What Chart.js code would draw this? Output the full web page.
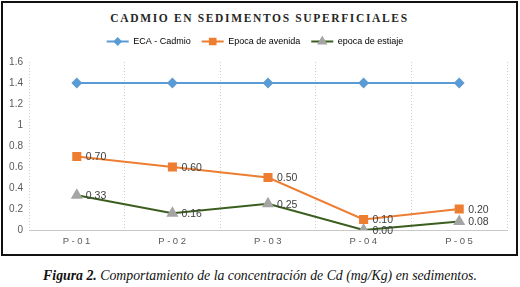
<!DOCTYPE html>
<html><head><meta charset="utf-8">
<script src="https://cdn.jsdelivr.net/npm/chart.js@4.4.1/dist/chart.umd.min.js"></script>
<style>
html,body{margin:0;padding:0;background:#fff;width:520px;height:287px;overflow:hidden}
#box{position:absolute;left:1px;top:1px;width:513px;height:251px;border:2px solid #111;background:#fff}
#title{position:absolute;left:0;top:9px;width:100%;text-align:center;font:bold 11.5px "Liberation Serif",serif;letter-spacing:1.65px;color:#262626}
#cv{position:absolute;left:0;top:0}
#cap{position:absolute;left:0;top:268px;width:520px;text-align:center;font:italic 13.8px "Liberation Serif",serif;color:#111}
</style></head>
<body>
<div id="box">
<div id="title">CADMIO EN SEDIMENTOS SUPERFICIALES</div>
<canvas id="cv" width="513" height="251"></canvas>
</div>
<div id="cap"><b>Figura 2.</b> Comportamiento de la concentración de Cd (mg/Kg) en sedimentos.</div>
<script>
const categories = ["P-01","P-02","P-03","P-04","P-05"];
const ecaCadmio = [1.4,1.4,1.4,1.4,1.4];
const epocaAvenida = [0.70,0.60,0.50,0.10,0.20];
const epocaEstiaje = [0.33,0.16,0.25,0.00,0.08];
const seriesNames = ["ECA - Cadmio","Epoca de avenida","epoca de estiaje"];

const lineColors = ["#5B9BD5","#ED7D31","#3B5E1F"];
const markColors = ["#5B9BD5","#ED7D31","#A5A5A5"];
const markStyles = ["rectRot","rect","triangle"];
const markRadius = [4,5,5];

const legendLines = {
  id:'legendLines',
  afterDraw(chart){
    const lg = chart.legend; if(!lg || !lg.legendHitBoxes) return;
    const ctx = chart.ctx;
    lg.legendHitBoxes.forEach((hb,i)=>{
      const bw = 22, cy = hb.top + hb.height/2;
      ctx.save();
      ctx.strokeStyle = lineColors[i]; ctx.lineWidth = 2;
      ctx.beginPath(); ctx.moveTo(hb.left, cy); ctx.lineTo(hb.left+bw, cy); ctx.stroke();
      ctx.fillStyle = markColors[i];
      ctx.strokeStyle = markColors[i];
      Chart.helpers.drawPoint(ctx,{pointStyle:markStyles[i],radius:markRadius[i]-1,rotation:0,borderWidth:1},hb.left+bw/2,cy);
      ctx.restore();
    });
  }
};

const dataLabels = {
  id:'dataLabels',
  afterDatasetsDraw(chart){
    const ctx = chart.ctx;
    ctx.save();
    ctx.font = '10.5px "Liberation Sans", sans-serif';
    ctx.fillStyle = '#404040';
    ctx.textBaseline = 'middle';
    ctx.textAlign = 'left';
    [1,2].forEach(di=>{
      const meta = chart.getDatasetMeta(di);
      meta.data.forEach((pt,j)=>{
        const v = chart.data.datasets[di].data[j];
        ctx.fillText(v.toFixed(2), pt.x+9, pt.y+1);
      });
    });
    ctx.restore();
  }
};

const spacedX = {
  id:'spacedX',
  afterLayout(chart){
    const s = chart.scales.x;
    if(s._wrapped) return;
    const orig = s.drawLabels.bind(s);
    s.drawLabels = function(area){
      const c = this.ctx; c.save(); c.letterSpacing = '2.5px'; c.translate(1,0); orig(area); c.restore();
    };
    s._wrapped = true;
  }
};

new Chart(document.getElementById('cv'),{
  type:'line',
  data:{
    labels:categories,
    datasets:[ecaCadmio,epocaAvenida,epocaEstiaje].map((d,i)=>({
      label:seriesNames[i],
      data:d,
      borderColor:lineColors[i],
      backgroundColor:markColors[i],
      pointBackgroundColor:markColors[i],
      pointBorderColor:markColors[i],
      pointStyle:markStyles[i],
      pointRadius:markRadius[i],
      borderWidth:2,
      tension:0,
      fill:false
    }))
  },
  options:{
    responsive:false,
    animation:false,
    devicePixelRatio:1,
    layout:{padding:{top:17,right:9,left:0,bottom:0}},
    plugins:{
      legend:{
        position:'top',
        labels:{
          boxWidth:22, boxHeight:21, padding:11,
          color:'#595959',
          font:{family:'"Liberation Sans", sans-serif',size:9},
          generateLabels(chart){
            return chart.data.datasets.map((ds,i)=>({text:ds.label,fillStyle:'rgba(0,0,0,0)',strokeStyle:'rgba(0,0,0,0)',lineWidth:0,datasetIndex:i}));
          }
        }
      },
      tooltip:{enabled:false}
    },
    scales:{
      x:{
        offset:true,
        grid:{display:true,offset:true,color:'#D0D0D0',drawTicks:false,lineWidth:1,borderDash:[1,2]},
        border:{display:true,color:'#C8C8C8',dash:[1,2]},
        ticks:{color:'#595959',font:{family:'"Liberation Sans", sans-serif',size:9.5},padding:6},
        afterFit(s){s.height=24;}
      },
      y:{
        min:0,max:1.6,
        grid:{display:false,drawTicks:false},
        border:{display:false},
        ticks:{stepSize:0.2,color:'#595959',font:{family:'"Liberation Sans", sans-serif',size:10},padding:6,
          callback:v=>String(Math.round(v*10)/10)},
        afterFit(s){s.width=26;}
      }
    }
  },
  plugins:[legendLines,dataLabels,spacedX]
});
</script>
</body></html>
